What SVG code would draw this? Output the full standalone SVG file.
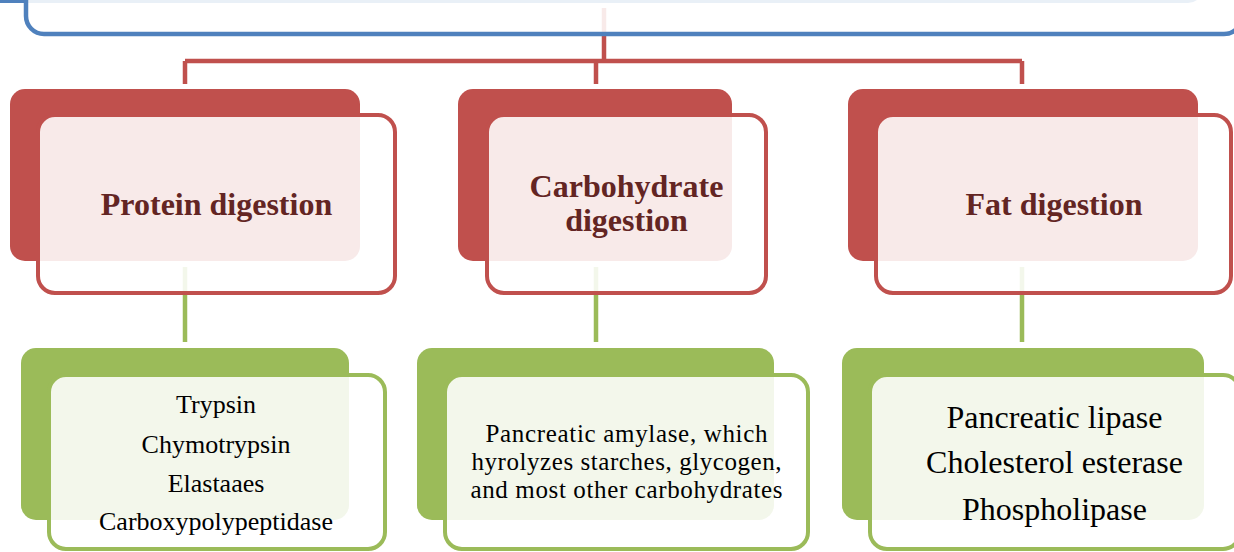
<svg xmlns="http://www.w3.org/2000/svg" width="1234" height="552" viewBox="0 0 1234 552">
  <style>
    .conn-red { stroke: #C0504D; stroke-width: 4.5; fill: none; }
    .conn-green { stroke: #9BBB59; stroke-width: 4.5; fill: none; }
    .back-red { fill: #C0504D; }
    .back-green { fill: #9BBB59; }
    .back-blue { fill: #4F81BD; }
    .front { fill: #FFFFFF; fill-opacity: 0.88; stroke-width: 4; }
    .front-red { stroke: #C0504D; }
    .front-green { stroke: #9BBB59; }
    .front-blue { stroke: #4F81BD; stroke-width: 4.5; }
    .title { font-weight: bold; font-size: 32px; fill: #632523; text-anchor: middle; }
    .body { fill: #000000; text-anchor: middle; }
  </style>
  <rect width="1234" height="552" fill="#FFFFFF"/>
  <g id="connectors">
    <path class="conn-red" d="M604,8 V61 M185,61 H1022 M185,61 V84 M596,61 V84 M1022,61 V84"/>
    <path class="conn-green" d="M185,267 V342 M596,267 V342 M1022,267 V342"/>
  </g>
  <g id="node-top">
    <rect class="back-blue" x="-20" y="-100" width="1223" height="103" rx="15"/>
    <rect class="front front-blue" x="26" y="-80" width="1216" height="114" rx="18"/>
  </g>
  <g font-family="'Liberation Serif', Tinos, 'DejaVu Serif', serif">
  <g id="node-protein">
    <rect class="back-red" x="10" y="89" width="350" height="172" rx="15"/>
    <rect class="front front-red" x="38" y="115" width="357" height="178" rx="17"/>
    <text class="title" x="216.5" y="215">Protein digestion</text>
  </g>
  <g id="node-carbohydrate">
    <rect class="back-red" x="458" y="89" width="274" height="172" rx="15"/>
    <rect class="front front-red" x="487" y="115" width="279" height="178" rx="17"/>
    <text class="title" x="626.5" y="197" font-size="31">Carbohydrate</text>
    <text class="title" x="626.5" y="231" font-size="31">digestion</text>
  </g>
  <g id="node-fat">
    <rect class="back-red" x="848" y="89" width="350" height="172" rx="15"/>
    <rect class="front front-red" x="876" y="115" width="355" height="178" rx="17"/>
    <text class="title" x="1054" y="215">Fat digestion</text>
  </g>
  <g id="node-protein-enzymes">
    <rect class="back-green" x="21" y="348" width="328" height="172" rx="15"/>
    <rect class="front front-green" x="49" y="375" width="336" height="174" rx="17"/>
    <text class="body" font-size="26" x="216" y="413">Trypsin</text>
    <text class="body" font-size="26" x="216" y="453">Chymotrypsin</text>
    <text class="body" font-size="26" x="216" y="492">Elastaaes</text>
    <text class="body" font-size="26" x="216" y="530">Carboxypolypeptidase</text>
  </g>
  <g id="node-carbohydrate-enzymes">
    <rect class="back-green" x="417" y="348" width="357" height="172" rx="15"/>
    <rect class="front front-green" x="445" y="375" width="363" height="174" rx="17"/>
    <text class="body" font-size="25" x="626.5" y="442" textLength="282" lengthAdjust="spacing">Pancreatic amylase, which</text>
    <text class="body" font-size="25" x="626.5" y="470" textLength="310" lengthAdjust="spacing">hyrolyzes starches, glycogen,</text>
    <text class="body" font-size="25" x="626.5" y="498" textLength="312" lengthAdjust="spacing">and most other carbohydrates</text>
  </g>
  <g id="node-fat-enzymes">
    <rect class="back-green" x="842" y="348" width="362" height="172" rx="15"/>
    <rect class="front front-green" x="870" y="375" width="370" height="174" rx="17"/>
    <text class="body" font-size="32" x="1054.5" y="428">Pancreatic lipase</text>
    <text class="body" font-size="32" x="1054.5" y="473">Cholesterol esterase</text>
    <text class="body" font-size="32" x="1054.5" y="520">Phospholipase</text>
  </g>
  </g>
</svg>
